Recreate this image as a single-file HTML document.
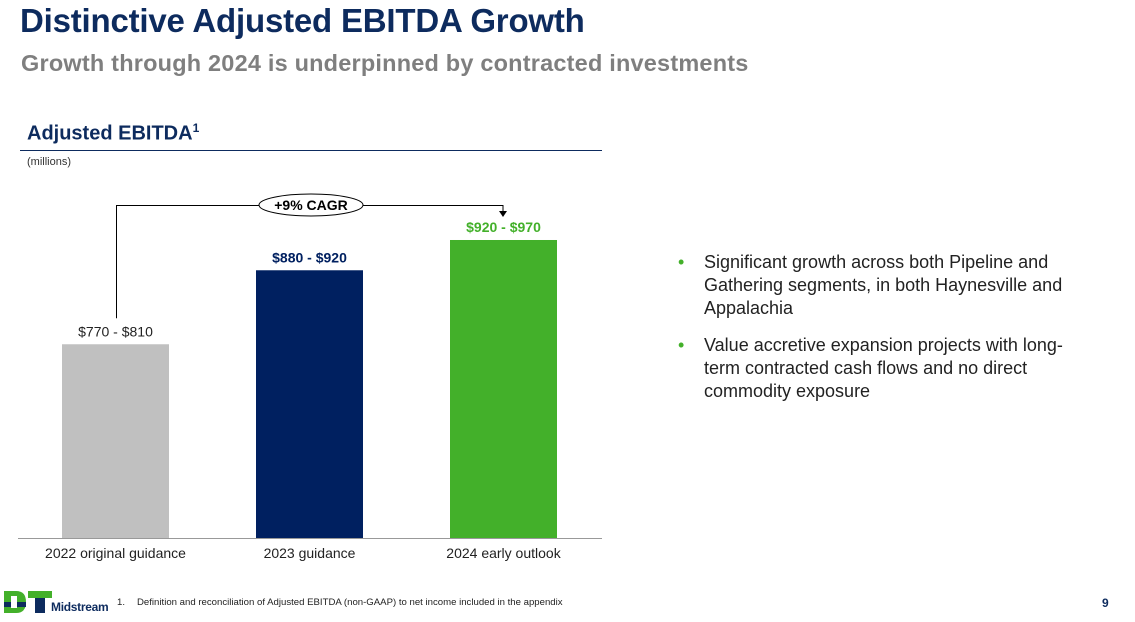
<!DOCTYPE html>
<html><head><meta charset="utf-8"><style>
body{margin:0;width:1135px;height:622px;background:#fff;font-family:"Liberation Sans",sans-serif;position:relative;overflow:hidden}
.abs{position:absolute}
</style></head><body>
<div class="abs" style="left:20px;top:2px;font-size:33px;font-weight:bold;color:#0d2b5e;letter-spacing:-0.2px">Distinctive Adjusted EBITDA Growth</div>
<div class="abs" style="left:21px;top:50px;font-size:23.5px;font-weight:bold;color:#7f7f7f;letter-spacing:0.2px">Growth through 2024 is underpinned by contracted investments</div>
<div class="abs" style="left:27px;top:121px;font-size:20px;font-weight:bold;color:#0d2b5e">Adjusted EBITDA<sup style="font-size:12px">1</sup></div>
<div class="abs" style="left:20px;top:150px;width:582px;height:1px;background:#0d2b5e"></div>
<div class="abs" style="left:27px;top:156px;font-size:11px;color:#333">(millions)</div>
<svg class="abs" style="left:0;top:0" width="1135" height="622" id="chart"></svg>
<div class="abs" style="left:678px;top:251px;width:410px;font-size:18px;color:#222;line-height:23px">
<div style="position:relative;padding-left:26px;margin-bottom:14px"><span style="position:absolute;left:0;color:#43b02a">•</span>Significant growth across both Pipeline and Gathering segments, in both Haynesville and Appalachia</div>
<div style="position:relative;padding-left:26px"><span style="position:absolute;left:0;color:#43b02a">•</span>Value accretive expansion projects with long-term contracted cash flows and no direct commodity exposure</div>
</div>
<div class="abs" style="left:4px;top:591px;width:96px;height:26px">
<svg width="50" height="24" style="position:absolute;left:0;top:0">
<path d="M0,0 H12 Q22,0 22,11 Q22,22 12,22 H0 Z" fill="#43b02a"/>
<rect x="24" y="0" width="24" height="7" fill="#43b02a"/>
<rect x="31" y="7" width="10" height="15" fill="#0d2b5e"/>
<rect x="0" y="11" width="22" height="5" fill="#0d2b5e"/>
<rect x="7" y="5" width="6" height="12" fill="#fff"/>
</svg>
<div style="position:absolute;left:47px;top:9px;font-size:12px;font-weight:bold;color:#0d2b5e;letter-spacing:-0.3px">Midstream</div>
</div>
<div class="abs" style="left:117px;top:597px;font-size:9.6px;color:#222"><span style="display:inline-block;width:20px">1.</span>Definition and reconciliation of Adjusted EBITDA (non-GAAP) to net income included in the appendix</div>
<div class="abs" style="left:1102px;top:596px;font-size:12px;font-weight:bold;color:#0d2b5e">9</div>
<script>
const categories=["2022 original guidance","2023 guidance","2024 early outlook"];
const lowValues=[770,880,920];
const highValues=[810,920,970];
const valueLabels=["$770 - $810","$880 - $920","$920 - $970"];
const barColors=["#c0c0c0","#002060","#43b02a"];
const labelColors=["#222","#002060","#43b02a"];
const svg=document.getElementById('chart');
const NS="http://www.w3.org/2000/svg";
const base=538, vmin=502, ppu=0.6727;
function y(v){return base-(v-vmin)*ppu;}
function x(i){return 62+i*194;}
const bw=107;
function mk(t,a,txt){const e=document.createElementNS(NS,t);for(const k in a)e.setAttribute(k,a[k]);if(txt!=null)e.textContent=txt;svg.appendChild(e);return e;}
const tops=[];
categories.forEach((c,i)=>{
 const mid=(lowValues[i]+highValues[i])/2;const ty=y(mid);tops.push(ty);
 const r=mk('rect',{x:x(i),y:ty,width:bw,height:base-ty,fill:barColors[i]});
 
 
 const l=mk('text',{x:x(i)+bw/2,y:ty-8,'text-anchor':'middle','font-size':14,'font-weight':i?'bold':'normal',fill:labelColors[i]},valueLabels[i]);
 
 
 const cl=mk('text',{x:x(i)+bw/2,y:558,'text-anchor':'middle','font-size':14,fill:'#222'},c);
 
 
});
const ax=mk('line',{x1:18,x2:602,y1:base+0.5,y2:base+0.5,stroke:'#999','stroke-width':1});


const x0=x(0)+bw/2+1, x2=x(2)+bw/2-0.5;
const p=mk('path',{d:`M${x0},${tops[0]-26} V205.5 H${x2} V212`,fill:'none',stroke:'#000','stroke-width':1});


const ar=mk('path',{d:`M${x2-4},211 L${x2+4},211 L${x2},217 Z`,fill:'#000'});


const el=mk('ellipse',{cx:311,cy:205,rx:52,ry:11,fill:'#fff',stroke:'#000','stroke-width':1});


const ct=mk('text',{x:311,y:210,'text-anchor':'middle','font-size':14,'font-weight':'bold',fill:'#000'},'+9% CAGR');


</script>
</body></html>
